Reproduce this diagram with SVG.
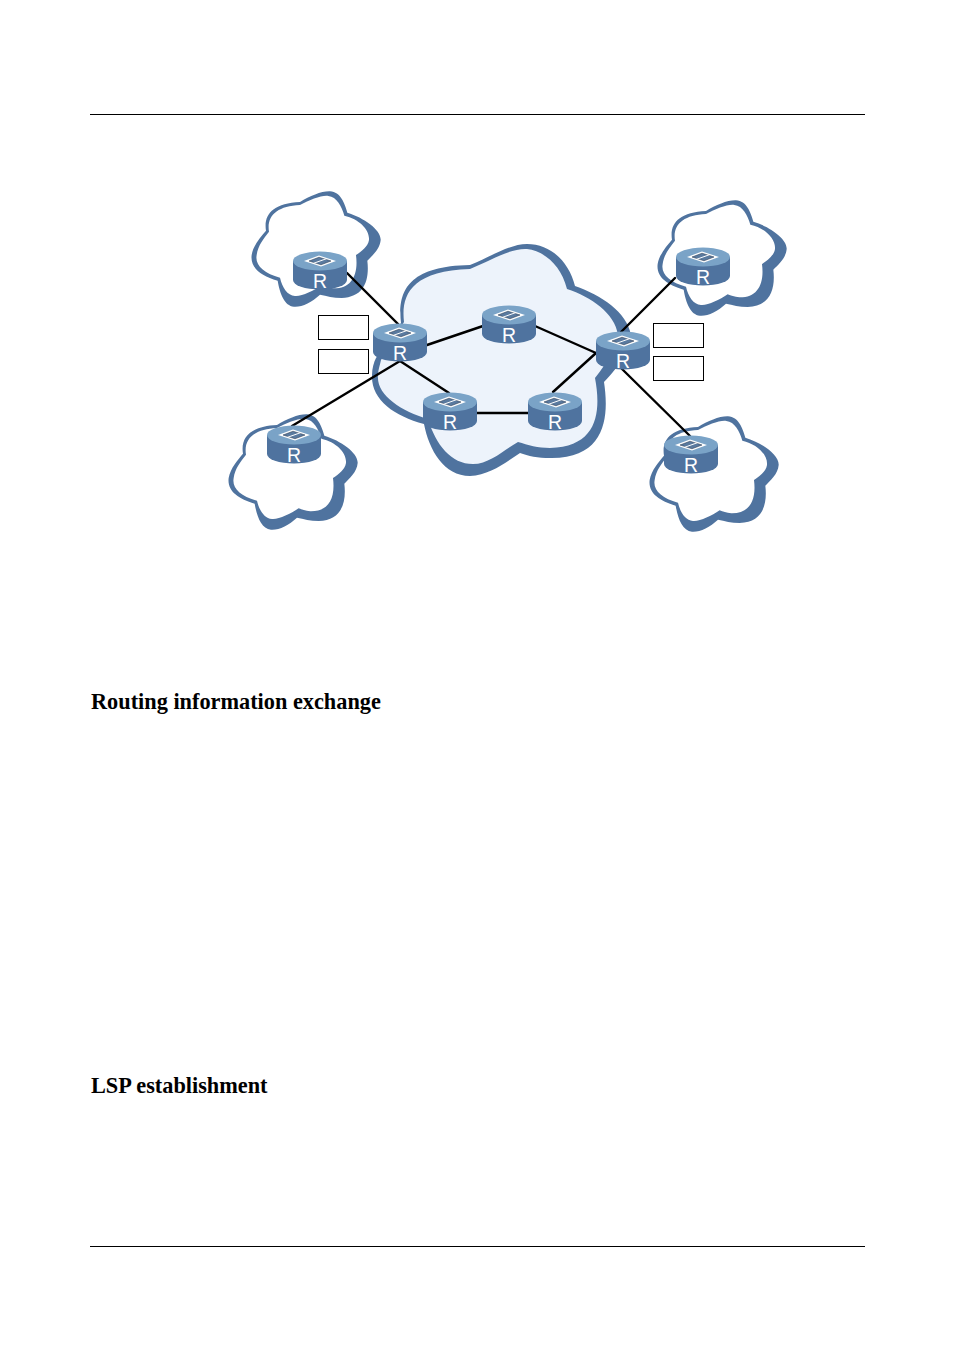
<svg xmlns="http://www.w3.org/2000/svg" width="954" height="1350" viewBox="0 0 954 1350">
<style>
.rule{stroke:#000;stroke-width:1;fill:none}
.link{stroke:#000;stroke-width:2.400;fill:none;stroke-linecap:round}
.box{fill:#fff;stroke:#000;stroke-width:1}
.shade{fill:#4f739f}
.top{fill:#7aa3c7}
.r{font-family:"Liberation Sans",Arial,sans-serif;font-size:19.500px;fill:#fff;text-anchor:middle}
.h{font-family:"Liberation Serif","Times New Roman",serif;font-weight:bold;font-size:22.300px;fill:#000}
</style>
<defs>
<g id="cloud" transform="translate(220,180) scale(.33333)">
<path class="shade" d="M138,152C130,103 160,70 240,66C270,48 305,33 330,34C362,36 374,70 382,98C432,113 484,150 482,180C480,207 457,227 442,242C449,302 432,352 365,354C340,354 320,348 300,344C275,367 245,382 222,380C193,377 180,342 173,302C123,287 90,264 95,225C100,195 123,170 138,152Z"/>
<path fill="#fff" d="M147,155C139,107 172,78 240,75C270,60 305,45 325,48C350,50 366,80 373,107C418,117 450,150 447,180C444,200 423,215 408,225C416,288 393,326 340,325C325,324 315,320 305,316C280,333 245,350 225,348C202,346 187,323 180,293C132,280 104,256 110,225C114,195 132,175 147,155Z"/>
</g>
<g id="router">
<path class="shade" d="M-27,0V19A27,9.500 0 0 0 27,19V0Z"/>
<ellipse class="top" cx="0" cy="0" rx="27" ry="9.500"/>
<polygon fill="#fff" points="-16,0 -1,-5.500 16,0 1,5.500"/>
<polygon fill="#5a7a9f" stroke="#1c2c44" stroke-width=".5" points="-11,0 -1,-3.800 11,0 1,3.800"/>
<path d="M-7,2.500L7,-2.500" stroke="#fff" stroke-width="1" fill="none"/>
<text class="r" x="0" y="26.500">R</text>
</g>
</defs>
<line class="rule" x1="90" y1="114.500" x2="865" y2="114.500"/>
<line class="rule" x1="90" y1="1246.500" x2="865" y2="1246.500"/>
<g id="cloud-core">
<path class="shade" d="M401,323C398,295 404,266 470,265C490,257 510,244 527,244C551,244 569,262 575,286C601,295 627,312 631,335C631,345 621,365 604,382C609,415 607,459 550,458C538,458 528,456 520,453C505,463 490,475 470,476C444,476 429,450 424,424C394,416 371,400 372,375C372,368 374,362 376,358Z"/>
<path fill="#edf3fb" d="M404,322C401,296 410,271 470,269C490,261 510,248 527,249C544,251 561,265 567,289C591,297 615,313 618,335C618,345 609,360 595,378C601,410 599,447 550,448C538,448 528,445 518,442C505,449 490,464 473,464C451,464 436,445 428,419C401,411 376,395 378,375C378,370 380,365 381,360Z"/>
</g>
<use id="cloud-top-left" href="#cloud"/>
<use id="cloud-bottom-left" href="#cloud" x="-23" y="223"/>
<use id="cloud-top-right" href="#cloud" x="406" y="9"/>
<use id="cloud-bottom-right" href="#cloud" x="398" y="225"/>
<g id="connectors">
<line class="link" x1="347" y1="273" x2="398" y2="324"/>
<line class="link" x1="427" y1="345" x2="483" y2="326"/>
<line class="link" x1="400" y1="361" x2="449" y2="393"/>
<line class="link" x1="400" y1="361" x2="292" y2="426"/>
<line class="link" x1="477" y1="413" x2="528" y2="413"/>
<line class="link" x1="535" y1="326" x2="596" y2="353"/>
<line class="link" x1="596" y1="353" x2="553" y2="392"/>
<line class="link" x1="621" y1="332" x2="675" y2="278"/>
<line class="link" x1="621" y1="368" x2="690" y2="436"/>
</g>
<use id="router-1" href="#router" x="320" y="261"/>
<use id="router-2" href="#router" x="400" y="333"/>
<use id="router-3" href="#router" x="509" y="315"/>
<use id="router-4" href="#router" x="450" y="402"/>
<use id="router-5" href="#router" x="555" y="402"/>
<use id="router-6" href="#router" x="623" y="341"/>
<use id="router-7" href="#router" x="703" y="257"/>
<use id="router-8" href="#router" x="691" y="445"/>
<use id="router-9" href="#router" x="294" y="435"/>
<rect id="label-1" class="box" x="318.500" y="315.500" width="50" height="24"/>
<rect id="label-2" class="box" x="318.500" y="349.500" width="50" height="24"/>
<rect id="label-3" class="box" x="653.500" y="323.500" width="50" height="24"/>
<rect id="label-4" class="box" x="653.500" y="356.500" width="50" height="24"/>
<text class="h" x="91" y="709">Routing information exchange</text>
<text class="h" x="91" y="1093">LSP establishment</text>
</svg>
